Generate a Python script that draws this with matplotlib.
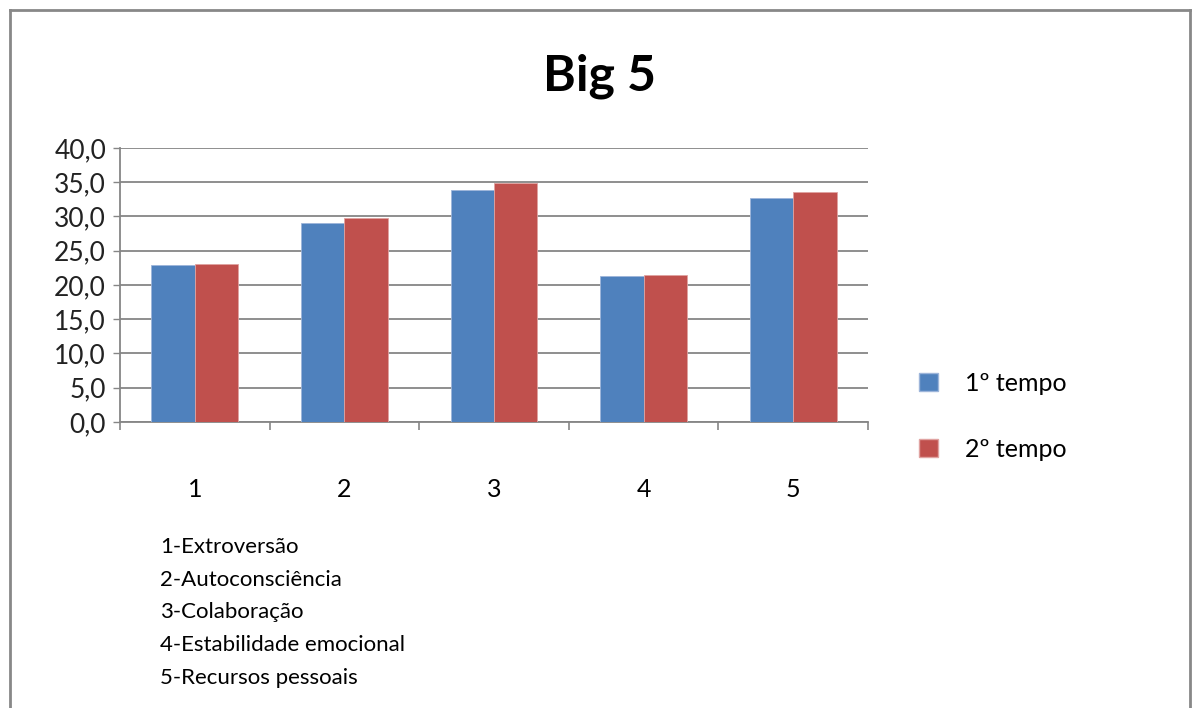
import matplotlib.pyplot as plt
import numpy as np
from matplotlib.lines import Line2D
from matplotlib.patches import Patch

# data
categories = ["1", "2", "3", "4", "5"]
tempo1 = [22.9, 29.1, 33.8, 21.3, 32.7]
tempo2 = [23.1, 29.8, 34.9, 21.5, 33.6]
series_names = ["1º tempo", "2º tempo"]
legend_notes = ["1-Extroversão", "2-Autoconsciência", "3-Colaboração",
                "4-Estabilidade emocional", "5-Recursos pessoais"]
yticks = [0, 5, 10, 15, 20, 25, 30, 35, 40]

blue = "#4F81BD"
red = "#C0504D"
grid = "#868686"

plt.rcParams['font.family'] = ['Lato', 'DejaVu Sans']

fig = plt.figure(figsize=(11.95, 7.08), dpi=100)
ax = fig.add_axes([0.1004, 0.404, 0.6260, 0.387])

x = np.arange(len(categories))
w = 0.29
ax.bar(x - w / 2, tempo1, w, color=blue, edgecolor="#9DB5DA", linewidth=0.6, zorder=3)
ax.bar(x + w / 2, tempo2, w, color=red, edgecolor="#E0A3A1", linewidth=0.6, zorder=3)

ax.set_xlim(-0.5, len(categories) - 0.5)
ax.set_ylim(0, 40)
ax.set_yticks(yticks)
ax.set_yticklabels([f"{v:.1f}".replace(".", ",") for v in yticks], fontsize=19, color="#222222")
ax.yaxis.grid(True, color=grid, linewidth=1.3, zorder=0)
ax.tick_params(axis="y", length=5, color=grid, width=1, pad=5)

# category labels far below the axis, ticks at category boundaries
ax.set_xticks(x)
ax.set_xticklabels(categories, fontsize=18)
ax.tick_params(axis="x", length=0, pad=40)
ax.set_xticks(np.arange(-0.5, len(categories)), minor=True)
ax.tick_params(axis="x", which="minor", length=6, color=grid, width=1.2, direction="out")

for s in ["top", "right"]:
    ax.spines[s].set_visible(False)
ax.spines["left"].set_color(grid)
ax.spines["bottom"].set_color(grid)
ax.spines["left"].set_linewidth(1.3)
ax.spines["bottom"].set_linewidth(1.3)

fig.text(0.502, 0.893, "Big 5", ha="center", va="center", fontsize=36, fontweight="bold")

handles = [Patch(facecolor=blue, edgecolor="#9DB5DA"), Patch(facecolor=red, edgecolor="#E0A3A1")]
fig.legend(handles, series_names, loc="center left", bbox_to_anchor=(0.750, 0.412),
           frameon=False, fontsize=18, handlelength=0.75, handleheight=0.75,
           handletextpad=1.1, labelspacing=1.7)

y0 = 0.227
for i, t in enumerate(legend_notes):
    fig.text(0.134, y0 - i * 0.046, t, fontsize=16, va="center")

# outer frame
for xs, ys in [([0.0084, 0.0084], [0.0, 0.986]), ([0.0084, 0.9958], [0.986, 0.986]),
               ([0.9958, 0.9958], [0.986, 0.0])]:
    fig.add_artist(Line2D(xs, ys, transform=fig.transFigure, color="#888888", linewidth=2))

fig.savefig("out.png", dpi=100)
